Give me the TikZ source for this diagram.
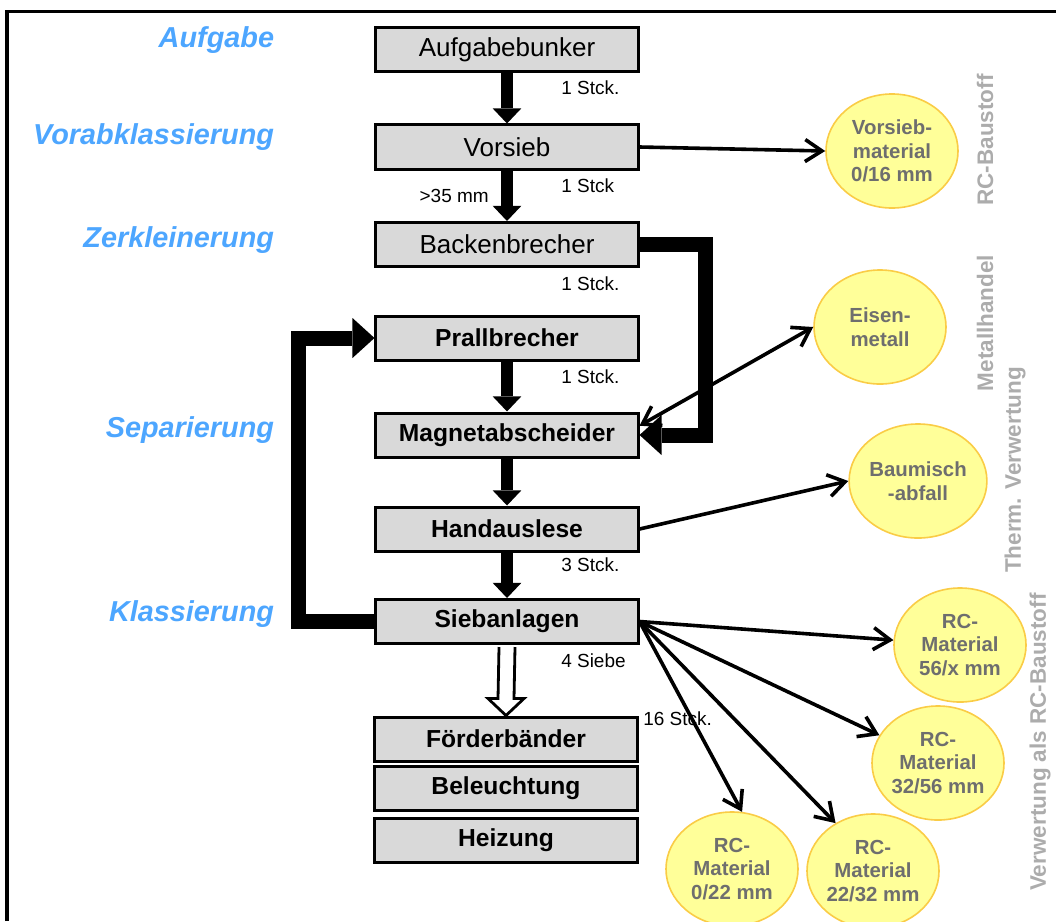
\documentclass[tikz,border=0pt]{standalone}
\usepackage{fontspec}
\setmainfont{Liberation Sans}
\usetikzlibrary{shapes.geometric,arrows.meta,calc}
\definecolor{phaseblue}{RGB}{77,166,255}
\definecolor{boxgray}{RGB}{217,217,217}
\definecolor{circfill}{RGB}{255,255,153}
\definecolor{circline}{RGB}{250,204,70}
\definecolor{circtext}{RGB}{110,110,110}
\definecolor{usegray}{RGB}{172,172,172}
\tikzset{barb/.tip={Straight Barb[length=0.42cm,width=0.55cm]}}

\begin{document}
\begin{tikzpicture}[x=0.025cm,y=-0.025cm,
  stage/.style={draw, line width=0.075cm, fill=boxgray, minimum width=6.55cm, minimum height=1.1cm, inner sep=0pt, font=\fontsize{17.5}{20}\selectfont\bfseries},
  plainstage/.style={stage, font=\fontsize{18.5}{21}\selectfont},
  product/.style={ellipse, draw=circline, line width=0.04cm, fill=circfill, minimum width=3.3cm, minimum height=2.85cm, inner sep=0pt, align=center, text=circtext, font=\fontsize{14.5}{16.7}\selectfont\bfseries},
  phase/.style={anchor=east, text=phaseblue, font=\fontsize{20.5}{24}\selectfont\bfseries\itshape},
  usage/.style={rotate=90, text=usegray, font=\fontsize{16}{19}\selectfont\bfseries},
  count/.style={anchor=west, inner sep=0pt, font=\fontsize{13.5}{16}\selectfont},
  flow/.style={line width=0.3cm, -{Triangle[width=0.72cm,length=0.38cm,line width=0pt]}},
  loopback/.style={line width=0.375cm, -{Triangle[width=1cm,length=0.55cm,line width=0pt]}},
  outlet/.style={line width=0.09cm, -barb}]
\useasboundingbox (0,0) rectangle (1056,921);
\clip (0,0) rectangle (1056,921);

% Frame
\draw[line width=0.075cm] (7,921) -- (7,11) -- (1056,11);

% Process phases
\node[phase] at (279,40) {Aufgabe};
\node[phase] at (279,137) {Vorabklassierung};
\node[phase] at (279,240) {Zerkleinerung};
\node[phase] at (279,430) {Separierung};
\node[phase] at (279,614) {Klassierung};

% Plant stages
\node[plainstage] (Aufgabebunker) at (507,49.5) {Aufgabebunker};
\node[plainstage] (Vorsieb) at (507,147) {Vorsieb};
\node[plainstage] (Backenbrecher) at (507,244.5) {Backenbrecher};
\node[stage] (Prallbrecher) at (507,338) {Prallbrecher};
\node[stage] (Magnetabscheider) at (507,435) {Magnetabscheider};
\node[stage] (Handauslese) at (507,529) {Handauslese};
\node[stage] (Siebanlagen) at (507,621.5) {Siebanlagen};
\node[stage] (Foerderbaender) at (506,739) {Förderbänder};
\node[stage] (Beleuchtung) at (506,788.5) {Beleuchtung};
\node[stage] (Heizung) at (506,840) {Heizung};

% Numbers of units
\node[count] at (561,88) {1 Stck.};
\node[count] at (561,186) {1 Stck};
\node[count, anchor=east] at (489,196) {>35 mm};
\node[count] at (561,284) {1 Stck.};
\node[count] at (561,377) {1 Stck.};
\node[count] at (561,565) {3 Stck.};
\node[count] at (561,661) {4 Siebe};
\node[count] at (643,719) {16 Stck.};

% Products
\node[product] (Vorsiebmaterial) at (892,151) {Vorsieb-\\material\\0/16 mm};
\node[product] (Eisenmetall) at (880,327) {Eisen-\\metall};
\node[product] (Baumischabfall) at (918,481) {Baumisch\\-abfall};
\node[product] (RCgrob) at (960,645) {RC-\\Material\\56/x mm};
\node[product] (RCmittel) at (938,763) {RC-\\Material\\32/56 mm};
\node[product] (RCfein) at (732,869) {RC-\\Material\\0/22 mm};
\node[product] (RCklein) at (873,871) {RC-\\Material\\22/32 mm};

% Uses
\node[usage] at (985,140) {RC-Baustoff};
\node[usage] at (985,323) {Metallhandel};
\node[usage] at (1015,470) {Therm. Verwertung};
\node[usage] at (1040,742) {Verwertung als RC-Baustoff};

% Material flow
\draw[flow] (Aufgabebunker.south) -- (Vorsieb.north);
\draw[flow] (Vorsieb.south) -- (Backenbrecher.north);
\draw[flow] (Prallbrecher.south) -- (Magnetabscheider.north);
\draw[flow] (Magnetabscheider.south) -- (Handauslese.north);
\draw[flow] (Handauslese.south) -- (Siebanlagen.north);
\draw[loopback] (Backenbrecher.east) -- ++(66,0) |- (Magnetabscheider.east);
\draw[loopback] (Siebanlagen.west) -- ++(-76,0) |- (Prallbrecher.west);
\draw[line width=0.07cm, fill=white] ($(Siebanlagen.south)+(-8,2)$) -- ($(Foerderbaender.north)+(-8,-17)$) -- ($(Foerderbaender.north)+(-18,-17)$) -- (Foerderbaender.north) -- ($(Foerderbaender.north)+(18,-17)$) -- ($(Foerderbaender.north)+(8,-17)$) -- ($(Siebanlagen.south)+(8,2)$);

% Outputs
\draw[outlet] (Vorsieb.east) -- (Vorsiebmaterial.west);
\draw[outlet, barb-barb] (Magnetabscheider.4) -- (Eisenmetall.west);
\draw[outlet] (Handauslese.east) -- (Baumischabfall.west);
\draw[outlet] (Siebanlagen.east) -- (RCgrob);
\draw[outlet] (Siebanlagen.east) -- (RCmittel);
\draw[outlet] (Siebanlagen.east) -- (RCklein.128);
\draw[outlet] (Siebanlagen.east) -- (RCfein.80);

\end{tikzpicture}
\end{document}
